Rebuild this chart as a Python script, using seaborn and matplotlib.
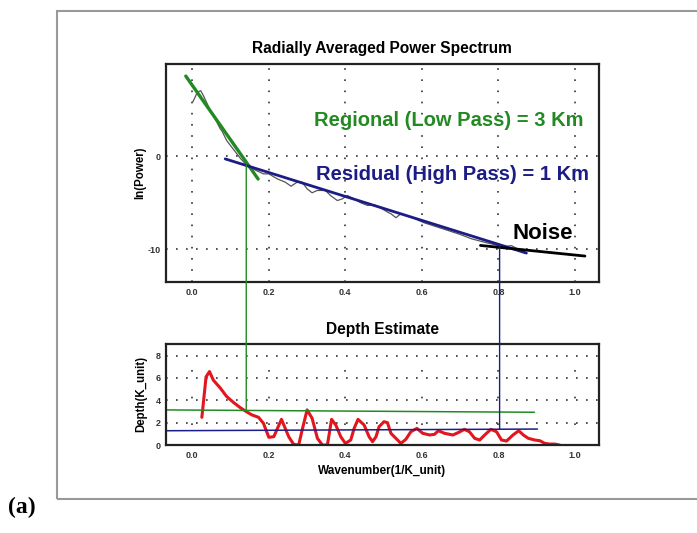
import matplotlib
matplotlib.use("Agg")
import matplotlib.pyplot as plt
from matplotlib.patches import ConnectionPatch, Rectangle
import seaborn as sns
import pandas as pd

# ---------------- data ----------------
spec_k = [0.001, 0.007, 0.013, 0.022, 0.029, 0.045, 0.06, 0.073, 0.077, 0.09, 0.11, 0.125,
          0.143, 0.16, 0.173, 0.186, 0.2, 0.222, 0.243, 0.258, 0.274, 0.287, 0.30, 0.313,
          0.326, 0.348, 0.361, 0.379, 0.392, 0.405, 0.423, 0.44, 0.458, 0.475, 0.493, 0.51,
          0.519, 0.532, 0.545, 0.575, 0.606, 0.64, 0.668, 0.70, 0.729, 0.76, 0.79, 0.81,
          0.834, 0.85, 0.88, 0.92, 0.96, 1.009]
spec_p = [5.8, 6.3, 6.86, 7.03, 6.5, 5.1, 4.0, 2.93, 2.74, 1.67, 0.6, -0.2,
          -1.0, -1.4, -1.65, -1.9, -1.9, -2.43, -2.79, -3.22, -2.79, -2.79, -3.5, -3.93,
          -3.68, -3.68, -4.22, -4.76, -4.58, -4.22, -4.58, -5.0, -5.29, -5.22, -5.58, -6.0,
          -6.18, -6.6, -6.18, -6.6, -7.15, -7.6, -7.97, -8.4, -8.86, -9.2, -9.5, -9.75,
          -9.6, -9.95, -10.1, -10.3, -10.45, -10.65]

regional_k = [-0.017, 0.172]
regional_p = [8.6, -2.45]
residual_k = [0.086, 0.873]
residual_p = [-0.29, -10.4]
noise_k = [0.753, 1.026]
noise_p = [-9.58, -10.72]

depth_k = [0.025, 0.036, 0.045, 0.055, 0.073, 0.09, 0.108, 0.125, 0.141, 0.156, 0.173, 0.186,
           0.2, 0.213, 0.233, 0.252, 0.265, 0.278, 0.287, 0.30, 0.313, 0.327, 0.34, 0.353,
           0.364, 0.375, 0.388, 0.40, 0.414, 0.423, 0.433, 0.449, 0.462, 0.471, 0.48, 0.488,
           0.501, 0.51, 0.519, 0.532, 0.545, 0.558, 0.571, 0.587, 0.602, 0.62, 0.633, 0.643,
           0.659, 0.681, 0.694, 0.711, 0.724, 0.738, 0.751, 0.764, 0.78, 0.795, 0.808, 0.821,
           0.838, 0.853, 0.865, 0.878, 0.895, 0.908, 0.921, 0.934, 0.947, 0.96]
depth_v = [2.48, 6.1, 6.57, 5.8, 5.1, 4.33, 3.8, 3.35, 2.99, 2.69, 2.48, 1.94,
           0.69, 0.75, 2.3, 0.74, 0.06, 0.0, 1.34, 3.14, 2.4, 0.6, 0.0, 0.0,
           2.3, 1.79, 0.74, 0.15, 0.45, 1.5, 2.3, 1.79, 0.74, 0.3, 0.74, 1.64,
           2.09, 2.0, 1.05, 0.6, 0.15, 0.51, 1.19, 1.49, 1.05, 0.9, 0.96, 1.28,
           1.05, 0.9, 1.1, 1.4, 1.19, 0.6, 0.45, 0.9, 1.4, 1.19, 0.45, 0.36,
           0.9, 1.28, 0.9, 0.6, 0.45, 0.39, 0.15, 0.09, 0.09, 0.0]

reg_depth_k = [-0.069, 0.894]
reg_depth_v = [3.14, 2.93]
res_depth_k = [-0.069, 0.902]
res_depth_v = [1.28, 1.43]

cut_regional_k = 0.141
cut_regional_top, cut_regional_bottom = -0.93, 3.02
cut_residual_k = 0.803
cut_residual_top, cut_residual_bottom = -9.6, 1.41

x_ticks = [0.0, 0.2, 0.4, 0.6, 0.8, 1.0]
x_ticklabels = ["0.0", "0.2", "0.4", "0.6", "0.8", "1.0"]
top_y_ticks = [0, -10]
top_y_ticklabels = ["0", "-10"]
bottom_y_ticks = [0, 2, 4, 6, 8]
bottom_y_ticklabels = ["0", "2", "4", "6", "8"]

# ---------------- style ----------------
sns.set_style("white")
plt.rcParams['font.family'] = ['Liberation Sans', 'DejaVu Sans']
plt.rcParams['axes.unicode_minus'] = False
plt.rcParams['text.color'] = 'black'
plt.rcParams['axes.labelcolor'] = 'black'

GREEN = "#238a23"
NAVY = "#1c1c86"
RED = "#e3161e"

fig = plt.figure(figsize=(6.97, 5.33), dpi=100)
ax1 = fig.add_axes([0.238, 0.471, 0.621, 0.409])
ax2 = fig.add_axes([0.238, 0.165, 0.621, 0.190])

spec_df = pd.DataFrame({"k": spec_k, "p": spec_p})
depth_df = pd.DataFrame({"k": depth_k, "d": depth_v})

# top panel
sns.lineplot(data=spec_df, x="k", y="p", ax=ax1, color="#555555", lw=0.9, sort=False)
sns.lineplot(x=regional_k, y=regional_p, ax=ax1, color=GREEN, lw=2.4)
sns.lineplot(x=residual_k, y=residual_p, ax=ax1, color=NAVY, lw=2.0)
sns.lineplot(x=noise_k, y=noise_p, ax=ax1, color="black", lw=2.0)

ax1.set_xlim(-0.069, 1.062)
ax1.set_ylim(-13.5, 9.9)
ax1.set_xticks(x_ticks)
ax1.set_xticklabels(x_ticklabels)
ax1.set_yticks(top_y_ticks)
ax1.set_yticklabels(top_y_ticklabels)
ax1.set_title("Radially Averaged Power Spectrum", fontsize=11.2, fontweight="bold",
              pad=8, color="black")
ax1.set_xlabel("")
ax1.set_ylabel("ln(Power)", fontsize=8.3, fontweight="bold", labelpad=1)

ax1.text(0.317, 3.78, "Regional (Low Pass) = 3 Km", color=GREEN, fontsize=14.5,
         fontweight="bold", va="center", ha="left")
ax1.text(0.323, -2.0, "Residual (High Pass) = 1 Km", color=NAVY, fontsize=14.5,
         fontweight="bold", va="center", ha="left")
ax1.text(0.836, -8.3, "Noise", color="black", fontsize=16, fontweight="bold",
         va="center", ha="left")

# bottom panel
sns.lineplot(data=depth_df, x="k", y="d", ax=ax2, color=RED, lw=2.2, sort=False)
sns.lineplot(x=reg_depth_k, y=reg_depth_v, ax=ax2, color=GREEN, lw=1.1)
sns.lineplot(x=res_depth_k, y=res_depth_v, ax=ax2, color=NAVY, lw=1.1)

ax2.set_xlim(-0.069, 1.062)
ax2.set_ylim(0, 9.05)
ax2.set_xticks(x_ticks)
ax2.set_xticklabels(x_ticklabels)
ax2.set_yticks(bottom_y_ticks)
ax2.set_yticklabels(bottom_y_ticklabels)
ax2.set_title("Depth Estimate", fontsize=11.2, fontweight="bold", pad=7, color="black")
ax2.set_xlabel("Wavenumber(1/K_unit)", fontsize=8.5, fontweight="bold", labelpad=4)
ax2.set_ylabel("Depth(K_unit)", fontsize=8.3, fontweight="bold", labelpad=6)

for ax, vdash in ((ax1, (0, (1.0, 5.7))), (ax2, (4, (1.0, 15.0)))):
    ax.xaxis.grid(True, linestyle=vdash, color="#333333", lw=1.2)
    ax.yaxis.grid(True, linestyle=(0, (1.0, 5.0)), color="#333333", lw=1.2)
    ax.tick_params(length=0, labelsize=6.5, labelcolor="#333333", pad=4)
    for lab in ax.get_xticklabels() + ax.get_yticklabels():
        lab.set_fontweight("bold")
    for sp in ax.spines.values():
        sp.set_visible(True)
        sp.set_color("#222222")
        sp.set_linewidth(1.6)

# connector lines across panels
for k, ytop, ybot, col in ((cut_regional_k, cut_regional_top, cut_regional_bottom, GREEN),
                           (cut_residual_k, cut_residual_top, cut_residual_bottom, NAVY)):
    con = ConnectionPatch(xyA=(k, ytop), coordsA=ax1.transData,
                          xyB=(k, ybot), coordsB=ax2.transData,
                          color=col, lw=1.0)
    fig.add_artist(con)

# outer frame and panel label
fig.add_artist(Rectangle((57 / 697, 1 - 499 / 533), 1.0, (499 - 11) / 533,
                         transform=fig.transFigure, fill=False, edgecolor="#999999", lw=1.5))
fig.text(8 / 697, 1 - 507 / 533, "(a)", fontsize=17, fontweight="bold",
         family=["Liberation Serif", "DejaVu Serif"], va="center", ha="left")

fig.savefig("out.png", dpi=100)
